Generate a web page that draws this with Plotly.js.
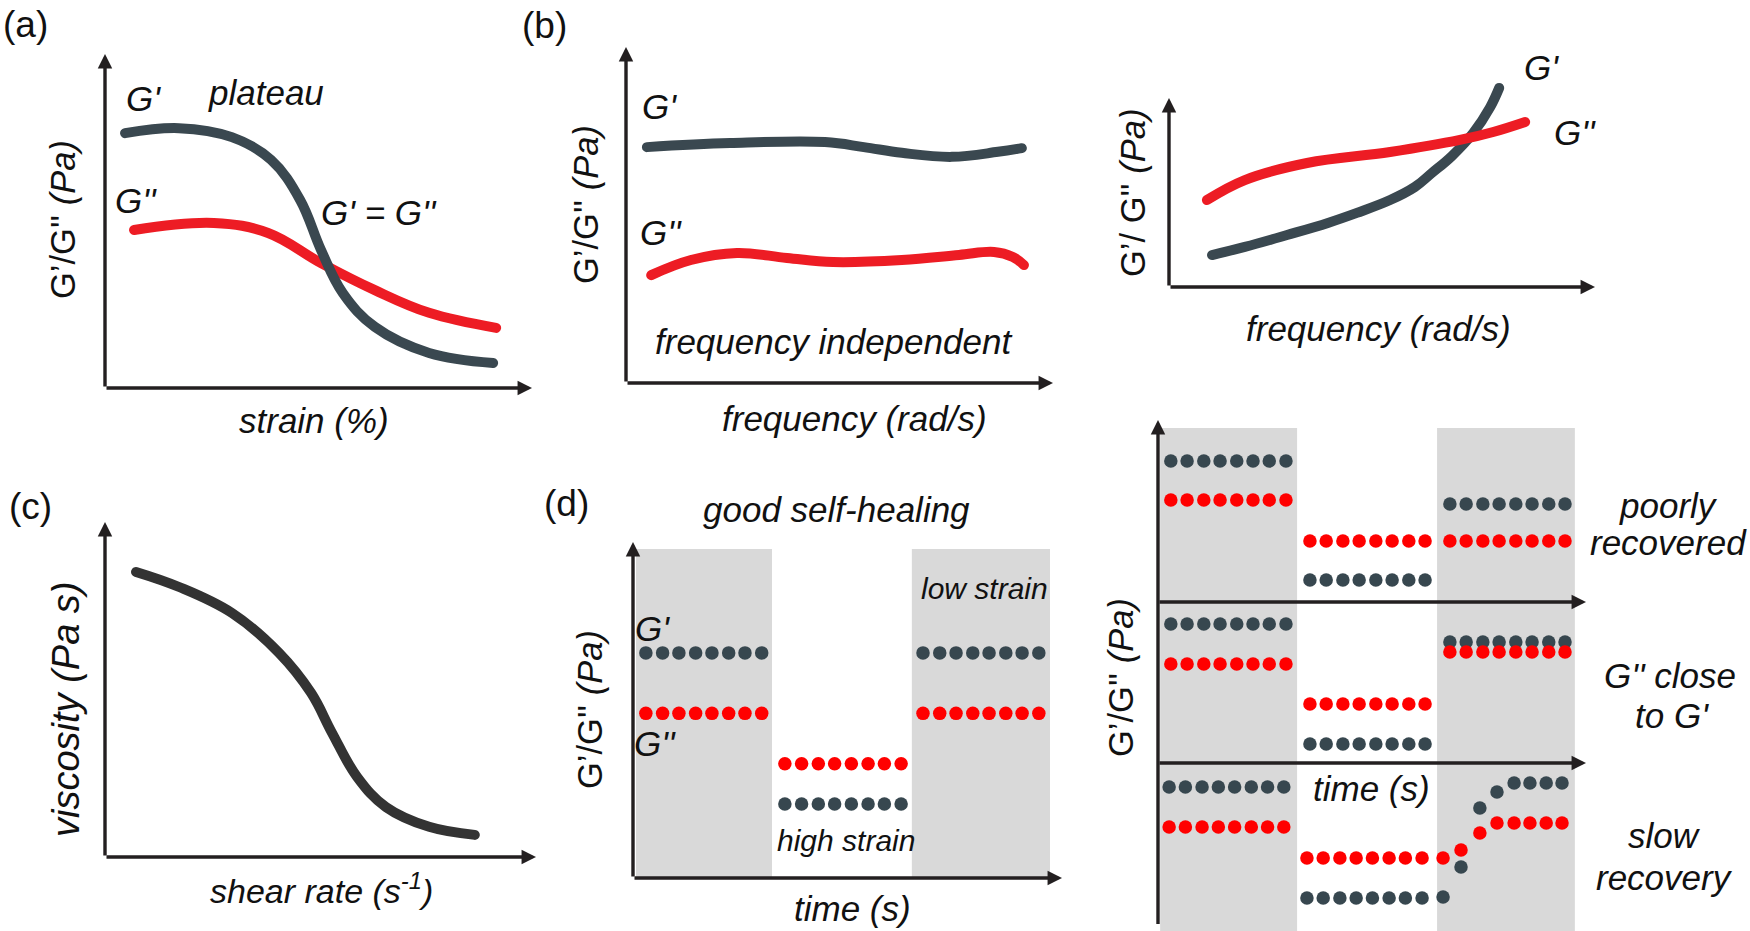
<!DOCTYPE html>
<html><head><meta charset="utf-8">
<script src="https://cdn.plot.ly/plotly-3.0.1.min.js"></script>
<style>html,body{margin:0;padding:0;background:#fff}#chart{width:1750px;height:931px}</style>
</head><body><div id="chart"></div>
<script>
// ================= DATA (schematic values, arbitrary units 0-100) =================
// (a) amplitude sweep
const strainGp = [4.7, 17.3, 29.7, 38.9, 45.7, 50.6, 55.7, 63.2, 75.9, 90.9];
const gPrimeA  = [76.3, 77.8, 75.1, 68.3, 56.3, 41.3, 28.4, 18.3, 10.5, 7.5];
const strainGpp = [6.8, 25.5, 38.2, 50.6, 63.2, 75.9, 91.6];
const gDoubleA  = [47.3, 49.4, 46.4, 37.4, 29.3, 22.5, 18.0];

// (b) frequency sweep, frequency independent
const freqB1Gp  = [4.9, 24.4, 46.6, 55.7, 64.6, 76.3, 87.1, 92.7];
const gPrimeB1  = [70.2, 71.4, 71.7, 70.2, 68.5, 67.3, 68.8, 69.9];
const freqB1Gpp = [5.9, 15.2, 26.0, 37.7, 48.5, 64.6, 78.0, 86.2, 90.6, 93.2];
const gDoubleB1 = [32.1, 36.6, 38.7, 37.2, 36.0, 36.6, 38.1, 39.0, 37.5, 35.1];

// (b) frequency sweep, crossover
const freqB2Gp  = [10.1, 17.8, 27.7, 37.3, 44.1, 51.9, 57.7, 61.7, 66.4, 71.4, 75.4, 77.5];
const gPrimeB2  = [16.9, 21.2, 27.5, 33.9, 39.2, 46.0, 52.9, 60.3, 69.3, 81.5, 95.2, 105.3];
const freqB2Gpp = [8.9, 17.8, 32.4, 51.9, 68.3, 76.1, 83.6];
const gDoubleB2 = [46.0, 56.6, 65.6, 71.4, 77.8, 82.0, 87.3];

// (c) viscosity vs shear rate
const shearRate = [7.2, 17.2, 29.5, 40.4, 47.8, 52.7, 58.5, 65.2, 75.2, 85.8];
const viscosity = [85.1, 80.6, 72.8, 60.9, 49.0, 37.0, 23.9, 14.9, 9.0, 6.6];

// (d) step strain, good self-healing
const timeD = [3.0, 6.9, 10.7, 14.6, 18.4, 22.3, 26.1, 30.0,
               35.4, 39.3, 43.2, 47.0, 50.9, 54.8, 58.6, 62.5,
               67.6, 71.5, 75.3, 79.2, 83.0, 86.9, 90.7, 94.6];
const gPrimeD  = [67, 67, 67, 67, 67, 67, 67, 67,
                  22, 22, 22, 22, 22, 22, 22, 22,
                  67, 67, 67, 67, 67, 67, 67, 67];
const gDoubleD = [49, 49, 49, 49, 49, 49, 49, 49,
                  34, 34, 34, 34, 34, 34, 34, 34,
                  49, 49, 49, 49, 49, 49, 49, 49];
const lowStrainStartD = [0.7, 65.0];
const lowStrainEndD   = [32.4, 97.2];
const bandTopD = 97.9;

// (d) right: three recovery cases
const timeR = [3.0, 6.8, 10.7, 14.5, 18.4, 22.2, 26.0, 29.9,
               35.5, 39.3, 43.2, 47.0, 50.9, 54.7, 58.6, 62.4,
               68.2, 72.0, 75.9, 79.7, 83.6, 87.4, 91.3, 95.1];
const gPrimePoor  = [87.6, 87.6, 87.6, 87.6, 87.6, 87.6, 87.6, 87.6,
                     13.7, 13.7, 13.7, 13.7, 13.7, 13.7, 13.7, 13.7,
                     60.9, 60.9, 60.9, 60.9, 60.9, 60.9, 60.9, 60.9];
const gDoublePoor = [63.4, 63.4, 63.4, 63.4, 63.4, 63.4, 63.4, 63.4,
                     37.9, 37.9, 37.9, 37.9, 37.9, 37.9, 37.9, 37.9,
                     37.9, 37.9, 37.9, 37.9, 37.9, 37.9, 37.9, 37.9];
const gPrimeClose  = [86.3, 86.3, 86.3, 86.3, 86.3, 86.3, 86.3, 86.3,
                      11.8, 11.8, 11.8, 11.8, 11.8, 11.8, 11.8, 11.8,
                      75.2, 75.2, 75.2, 75.2, 75.2, 75.2, 75.2, 75.2];
const gDoubleClose = [61.5, 61.5, 61.5, 61.5, 61.5, 61.5, 61.5, 61.5,
                      36.6, 36.6, 36.6, 36.6, 36.6, 36.6, 36.6, 36.6,
                      68.9, 68.9, 68.9, 68.9, 68.9, 68.9, 68.9, 68.9];
const timeSlow = [2.6, 6.4, 10.3, 14.1, 17.9, 21.8, 25.6, 29.4,
                  34.8, 38.6, 42.5, 46.3, 50.1, 54.0, 57.8, 61.7,
                  66.6, 70.8, 75.2, 79.2, 83.2, 86.9, 90.7, 94.4];
const gPrimeSlow  = [85.1, 85.1, 85.1, 85.1, 85.1, 85.1, 85.1, 85.1,
                     16.1, 16.1, 16.1, 16.1, 16.1, 16.1, 16.1, 16.1,
                     16.8, 35.4, 72.0, 82.0, 87.6, 87.6, 87.6, 87.6];
const gDoubleSlow = [60.2, 60.2, 60.2, 60.2, 60.2, 60.2, 60.2, 60.2,
                     41.0, 41.0, 41.0, 41.0, 41.0, 41.0, 41.0, 41.0,
                     41.0, 46.0, 56.5, 62.7, 62.7, 62.7, 62.7, 62.7];
const lowStrainStartR = [0.5, 65.2];
const lowStrainEndR   = [32.5, 97.4];

// ================= STYLE / LAYOUT =================
const W = 1750, H = 931;
const DARK = '#3a4850', RED = '#ed1c24', DOT_DARK = '#37474f', DOT_RED = '#ff0000';
const AXC = '#231f20', BAND = '#d9d9d9';
const FONT = 'Liberation Sans, Arial, Helvetica, sans-serif';
const FS = 35;

// each panel gets an axis pair that spans the whole page; origin/tip pixel positions map to 0 and 100
function axPair(ox, oy, tx, ty) {
  const sx = (tx - ox) / 100, sy = (oy - ty) / 100;
  return [
    {domain: [0, 1], range: [-ox / sx, (W - ox) / sx], visible: false, fixedrange: true},
    {domain: [0, 1], range: [(oy - H) / sy, oy / sy], visible: false, fixedrange: true}
  ];
}
const layout = {
  width: W, height: H, margin: {l: 0, r: 0, t: 0, b: 0},
  paper_bgcolor: '#ffffff', plot_bgcolor: 'rgba(0,0,0,0)', showlegend: false,
  font: {family: FONT, size: FS, color: '#111'},
  shapes: [], annotations: []
};
const panels = {
  '':  [105, 388, 532, 54],     // (a)
  '2': [626, 383, 1053, 47],    // (b) left
  '3': [1169, 287, 1595, 98],   // (b) right
  '4': [105, 857, 536, 522],    // (c)
  '5': [633, 878, 1062, 542],   // (d) left
  '6': [1158, 602, 1586, 441],  // (d) right top
  '7': [1158, 763, 1586, 602],  // (d) right middle
  '8': [1158, 924, 1586, 763]   // (d) right bottom
};
for (const k in panels) {
  const [xa, ya] = axPair(...panels[k]);
  layout['xaxis' + k] = Object.assign(xa, {anchor: 'y' + k});
  layout['yaxis' + k] = Object.assign(ya, {anchor: 'x' + k});
}

// ================= TRACES =================
const traces = [];
function curve(x, y, ax, color, lw) {
  traces.push({
    type: 'scatter', mode: 'lines', x: x, y: y, xaxis: 'x' + ax, yaxis: 'y' + ax,
    line: {color: color, width: lw, shape: 'spline', smoothing: 1.1},
    hoverinfo: 'skip'
  });
}
function dots(x, y, ax, color) {
  traces.push({
    type: 'scatter', mode: 'markers', x: x, y: y, xaxis: 'x' + ax, yaxis: 'y' + ax,
    marker: {color: color, size: 13.5, line: {width: 0}}, hoverinfo: 'skip'
  });
}
curve(strainGpp, gDoubleA, '', RED, 10);
curve(strainGp, gPrimeA, '', DARK, 10);
curve(freqB1Gp, gPrimeB1, '2', DARK, 10);
curve(freqB1Gpp, gDoubleB1, '2', RED, 10);
curve(freqB2Gp, gPrimeB2, '3', DARK, 10);
curve(freqB2Gpp, gDoubleB2, '3', RED, 10);
curve(shearRate, viscosity, '4', '#333333', 10);
dots(timeD, gPrimeD, '5', DOT_DARK);
dots(timeD, gDoubleD, '5', DOT_RED);
dots(timeR, gPrimePoor, '6', DOT_DARK);
dots(timeR, gDoublePoor, '6', DOT_RED);
dots(timeR, gPrimeClose, '7', DOT_DARK);
dots(timeR, gDoubleClose, '7', DOT_RED);
dots(timeSlow, gPrimeSlow, '8', DOT_DARK);
dots(timeSlow, gDoubleSlow, '8', DOT_RED);

// low-strain bands
lowStrainStartD.forEach((s, i) => layout.shapes.push({
  type: 'rect', xref: 'x5', yref: 'y5', x0: s, x1: lowStrainEndD[i], y0: 0, y1: bandTopD,
  fillcolor: BAND, line: {width: 0}, layer: 'below'
}));
lowStrainStartR.forEach((s, i) => layout.shapes.push({
  type: 'rect', xref: 'x6', yref: 'y6', x0: s, x1: lowStrainEndR[i], y0: -205, y1: 108,
  fillcolor: BAND, line: {width: 0}, layer: 'below'
}));

// axis arrows
function arrow(k, x0, y0, x1, y1) {
  layout.annotations.push({
    xref: 'x' + k, yref: 'y' + k, axref: 'x' + k, ayref: 'y' + k,
    x: x1, y: y1, ax: x0, ay: y0, text: '', showarrow: true,
    arrowhead: 2, arrowsize: 0.85, arrowwidth: 3.4, arrowcolor: AXC, standoff: 0, startstandoff: 0
  });
}
['', '2', '3', '4', '5'].forEach(k => { arrow(k, 0, 0, 0, 100); arrow(k, 0, 0, 100, 0); });
arrow('6', 0, -201, 0, 113);
arrow('6', 0, 0, 100, 0);
arrow('7', 0, 0, 100, 0);

// text labels (pixel positions on the page)
function label(txt, px, py, size, opts) {
  layout.annotations.push(Object.assign({
    xref: 'paper', yref: 'paper', x: px / W, y: 1 - py / H, text: txt, showarrow: false,
    xanchor: 'center', yanchor: 'middle', font: {family: FONT, size: size || FS, color: '#111'}
  }, opts || {}));
}
const it = s => '<i>' + s + '</i>';
const ytitle = 'G’/G\'\' <i>(Pa)</i>';
const ROT = {textangle: -90};
// (a)
label('(a)', 25, 24, 37);
label(it("G'"), 143, 98);
label(it('plateau'), 266, 93);
label(it("G''"), 136, 200);
label(it("G' = G''"), 379, 213);
label(ytitle, 63, 219, 34.5, ROT);
label(it('strain (%)'), 314, 420);
// (b)
label('(b)', 544, 25, 37);
label(it("G'"), 659, 107);
label(it("G''"), 661, 233);
label(it('frequency independent'), 833, 342);
label(ytitle, 586, 205, 34.5, ROT);
label(it('frequency (rad/s)'), 854, 418);
label(it("G'"), 1541, 67);
label(it("G''"), 1575, 133);
label('G’/ G\'\' <i>(Pa)</i>', 1133, 193, 34.5, ROT);
label(it('frequency (rad/s)'), 1378, 328);
// (c)
label('(c)', 30, 507, 37);
label(it('viscosity (Pa s)'), 66, 710, 38, ROT);
label(it('shear rate (s<sup>-1</sup>)'), 321, 888, 34);
// (d)
label('(d)', 566, 503, 37);
label(it('good self-healing'), 836, 510);
label(it("G'"), 652, 628);
label(it("G''"), 655, 743);
label(it('low strain'), 984, 588, 30);
label(it('high strain'), 846, 840, 30);
label(ytitle, 590, 710, 34.5, ROT);
label(it('time (s)'), 852, 908);
label(it('poorly'), 1668, 505);
label(it('recovered'), 1668, 542);
label(it("G'' close"), 1670, 675);
label(it("to G'"), 1672, 715);
label(it('slow'), 1664, 835);
label(it('recovery'), 1664, 877);
label(it('time (s)'), 1371, 788);
label(ytitle, 1121, 678, 34.5, ROT);

Plotly.newPlot('chart', traces, layout, {staticPlot: true, displayModeBar: false}).then(() => {
  // rounded ends on the curves, as in the reference drawing
  document.querySelectorAll('.scatterlayer .js-line').forEach(p => {
    p.style.strokeLinecap = 'round';
    p.style.strokeLinejoin = 'round';
  });
});
</script>
</body></html>
